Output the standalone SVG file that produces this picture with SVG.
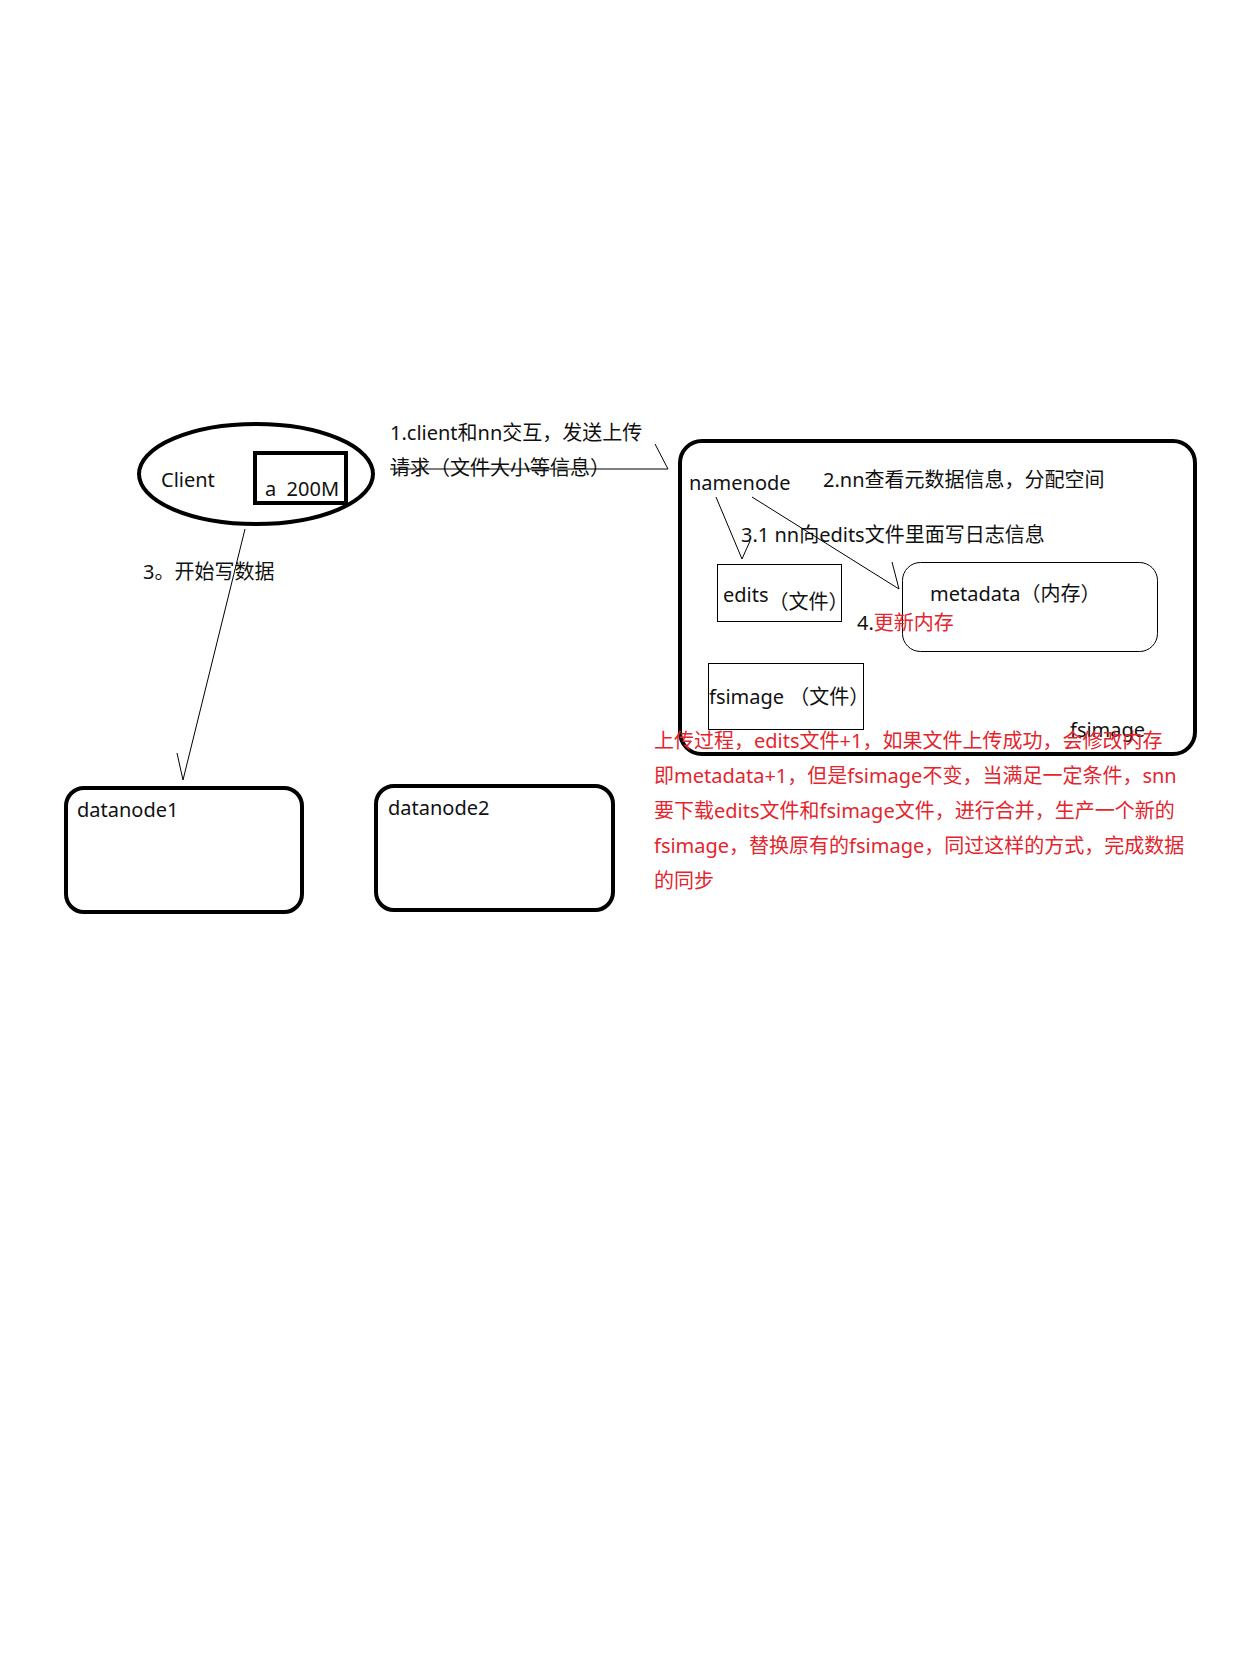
<svg xmlns="http://www.w3.org/2000/svg" width="1252" height="1668" viewBox="0 0 1252 1668">
<style>
text{font-family:"Noto Sans","Noto Sans CJK SC",sans-serif;font-size:20px;fill:#111}
.red{fill:#e3262e;font-size:20px}
.thick{fill:none;stroke:#000;stroke-width:4}
.thin{fill:none;stroke:#000;stroke-width:1}
.conn{fill:none;stroke:#000;stroke-width:1}
</style>
<rect width="1252" height="1668" fill="#fff"/>
<g id="client">
<ellipse class="thick" cx="256" cy="474" rx="117" ry="50"/>
<rect class="thick" x="255" y="453" width="91" height="50"/>
<text x="161" y="487">Client</text>
<text x="265" y="496" xml:space="preserve">a  200M</text>
</g>
<g id="namenode">
<rect class="thick" x="680" y="441" width="515" height="313" rx="22"/>
<text x="689" y="490">namenode</text>
<text x="823" y="487">2.nn查看元数据信息，分配空间</text>
<text x="741" y="542">3.1 nn向edits文件里面写日志信息</text>
<text x="1070" y="737">fsimage</text>
</g>
<g id="edits">
<rect class="thin" x="717.5" y="564.5" width="124" height="57"/>
<text x="723" y="602">edits<tspan dy="7">（文件）</tspan></text>
</g>
<g id="metadata">
<rect class="thin" x="902.5" y="562.5" width="255" height="89" rx="18"/>
<text x="930" y="601">metadata（内存）</text>
<text x="857" y="630">4.<tspan class="red">更新内存</tspan></text>
</g>
<g id="fsimage">
<rect class="thin" x="708.5" y="663.5" width="155" height="66"/>
<text x="709" y="704">fsimage （文件）</text>
</g>
<g id="datanode1">
<rect class="thick" x="66" y="788" width="236" height="124" rx="18"/>
<text x="77" y="817">datanode1</text>
</g>
<g id="datanode2">
<rect class="thick" x="376" y="786" width="237" height="124" rx="18"/>
<text x="388" y="815">datanode2</text>
</g>
<g id="note">
<text class="red" x="654" y="748">上传过程，edits文件+1，如果文件上传成功，会修改内存</text>
<text class="red" x="654" y="783">即metadata+1，但是fsimage不变，当满足一定条件，snn</text>
<text class="red" x="654" y="818">要下载edits文件和fsimage文件，进行合并，生产一个新的</text>
<text class="red" x="654" y="853">fsimage，替换原有的fsimage，同过这样的方式，完成数据</text>
<text class="red" x="654" y="888">的同步</text>
</g>
<g id="label1">
<text x="390" y="440">1.client和nn交互，发送上传</text>
<text x="390" y="475">请求（文件大小等信息）</text>
</g>
<g id="label3">
<text x="143" y="579">3。开始写数据</text>
</g>
<g id="connectors">
<path class="conn" d="M390 469 H668 M655 444 L668 469"/>
<path class="conn" d="M245 529 L183 780 M177 753 L183 780"/>
<path class="conn" d="M716 497 L742 559 M750 541 L742 559"/>
<path class="conn" d="M752 497 L899 589 M892 562 L899 589"/>
</g>
</svg>
